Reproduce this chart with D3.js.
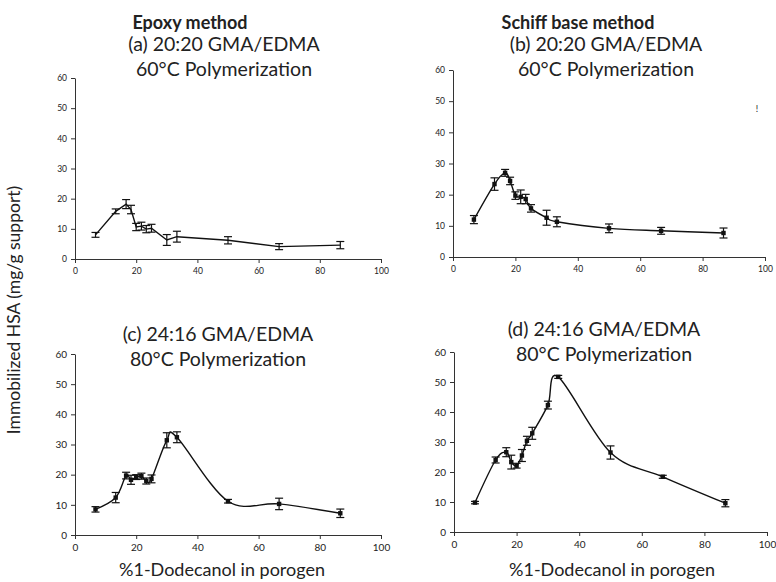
<!DOCTYPE html>
<html>
<head>
<meta charset="utf-8">
<script src="https://cdn.jsdelivr.net/npm/d3@7"></script>
<style>
  body { margin:0; background:#fff; }
  svg text { font-family: Lato, "Open Sans", sans-serif; fill:#222; }
</style>
</head>
<body>
<svg id="chart" width="776" height="582"></svg>
<script>
// % 1-dodecanol in porogen (same for every panel)
const dodecanolPct = [6.7, 13.3, 16.7, 18.3, 20, 21.7, 23.3, 25, 30, 33.3, 50, 66.7, 86.7];

// (a) epoxy, 20:20, 60°C
const hsaA = [8.0, 15.8, 18.2, 16.4, 10.6, 10.9, 9.9, 10.2, 6.3, 7.4, 6.2, 4.1, 4.6];
const errA = [0.8, 0.8, 1.5, 1.4, 1.2, 1.3, 1.2, 1.3, 1.8, 1.8, 1.2, 1.0, 1.2];
// (b) schiff base, 20:20, 60°C
const hsaB = [12.0, 23.4, 27.0, 24.4, 19.7, 19.3, 18.6, 15.6, 12.6, 11.3, 9.2, 8.4, 7.7];
const errB = [1.3, 2.0, 1.1, 1.2, 1.2, 2.2, 1.5, 1.2, 2.4, 1.6, 1.4, 1.1, 1.6];
// (c) epoxy, 24:16, 80°C
const hsaC = [8.5, 12.4, 19.7, 18.3, 19.2, 19.5, 17.9, 18.6, 31.4, 32.4, 11.2, 10.3, 7.2];
const errC = [0.9, 1.7, 1.1, 1.5, 0.8, 1.0, 1.0, 1.3, 2.5, 1.8, 0.6, 1.9, 1.4];
// (d) schiff base, 24:16, 80°C
const hsaD = [9.8, 24.0, 26.6, 23.3, 22.1, 25.5, 30.4, 32.9, 42.3, 51.7, 26.5, 18.4, 9.6];
const errD = [0.4, 1.0, 1.5, 2.3, 0.8, 2.0, 1.5, 2.0, 1.3, 0.5, 2.2, 0.5, 1.2];

const xTicks = [0, 20, 40, 60, 80, 100];
const yTicks = [0, 10, 20, 30, 40, 50, 60];

const svg = d3.select("#chart");

const panels = [
  { y: hsaA, e: errA, x0: 75,  x1: 381, y0: 259, y1: 78,  smooth: false, marker: 0,
    title: ["(a) 20:20 GMA/EDMA", "60°C Polymerization"], tx: 224, ty: 51, fs: 8.5 },
  { y: hsaB, e: errB, x0: 453, x1: 765, y0: 257, y1: 70,  smooth: true, marker: 2.2,
    title: ["(b) 20:20 GMA/EDMA", "60°C Polymerization"], tx: 606, ty: 51, fs: 8.5 },
  { y: hsaC, e: errC, x0: 75,  x1: 381, y0: 535, y1: 354, smooth: true, marker: 2.2,
    title: ["(c) 24:16 GMA/EDMA", "80°C Polymerization"], tx: 218, ty: 341, fs: 10 },
  { y: hsaD, e: errD, x0: 454, x1: 767, y0: 532, y1: 352, smooth: true, marker: 2.2,
    title: ["(d) 24:16 GMA/EDMA", "80°C Polymerization"], tx: 604, ty: 336, fs: 10 }
];

panels.forEach(p => {
  const x = d3.scaleLinear().domain([0, 100]).range([p.x0, p.x1]);
  const y = d3.scaleLinear().domain([0, 60]).range([p.y0, p.y1]);
  const g = svg.append("g");

  const ax = g.append("g").attr("transform", `translate(0,${p.y0})`)
    .call(d3.axisBottom(x).tickValues(xTicks).tickSize(4).tickSizeOuter(0).tickPadding(5));
  const ay = g.append("g").attr("transform", `translate(${p.x0},0)`)
    .call(d3.axisLeft(y).tickValues(yTicks).tickSize(4).tickSizeOuter(0).tickPadding(4));
  [ax, ay].forEach(a => {
    a.select(".domain").attr("stroke", "#333");
    a.selectAll(".tick line").attr("stroke", "#333");
    a.selectAll(".tick text").style("font-size", p.fs + "px").attr("fill", "#333");
  });

  const pts = dodecanolPct.map((v, i) => ({ x: v, y: p.y[i], e: p.e[i] }));

  const line = d3.line().x(d => x(d.x)).y(d => y(d.y))
    .curve(p.smooth ? d3.curveCardinal.tension(0) : d3.curveLinear);
  g.append("path").datum(pts).attr("d", line)
    .attr("fill", "none").attr("stroke", "#111").attr("stroke-width", 1.4);

  // error bars
  const eb = g.append("g").attr("stroke", "#111").attr("stroke-width", 1.2);
  pts.forEach(d => {
    const cx = x(d.x), top = y(d.y + d.e), bot = y(d.y - d.e);
    eb.append("line").attr("x1", cx).attr("x2", cx).attr("y1", top).attr("y2", bot);
    eb.append("line").attr("x1", cx - 4).attr("x2", cx + 4).attr("y1", top).attr("y2", top);
    eb.append("line").attr("x1", cx - 4).attr("x2", cx + 4).attr("y1", bot).attr("y2", bot);
  });

  if (p.marker > 0) {
    g.append("g").selectAll("rect").data(pts).enter().append("rect")
      .attr("x", d => x(d.x) - p.marker).attr("y", d => y(d.y) - p.marker)
      .attr("width", p.marker * 2).attr("height", p.marker * 2).attr("fill", "#111");
  }

  p.title.forEach((t, i) => {
    g.append("text").attr("x", p.tx).attr("y", p.ty + i * 25)
      .attr("text-anchor", "middle").style("font-size", "19.5px").text(t);
  });
});

// column headers
svg.append("text").attr("x", 190).attr("y", 29).attr("text-anchor", "middle")
  .style("font-size", "18px").style("font-weight", "700").text("Epoxy method");
svg.append("text").attr("x", 578).attr("y", 29).attr("text-anchor", "middle")
  .style("font-size", "18px").style("font-weight", "700").text("Schiff base method");

// axis titles
svg.append("text").attr("transform", "translate(20,310) rotate(-90)").attr("text-anchor", "middle")
  .style("font-size", "17.5px").attr("fill", "#333").text("Immobilized HSA (mg/g support)");
svg.append("text").attr("x", 222).attr("y", 576).attr("text-anchor", "middle")
  .style("font-size", "18px").text("%1-Dodecanol in porogen");
svg.append("text").attr("x", 612).attr("y", 576).attr("text-anchor", "middle")
  .style("font-size", "18px").text("%1-Dodecanol in porogen");

// stray mark in panel (b)
svg.append("text").attr("x", 757).attr("y", 112).attr("text-anchor", "middle")
  .style("font-size", "9px").attr("fill", "#555").text("!");
</script>
</body>
</html>
